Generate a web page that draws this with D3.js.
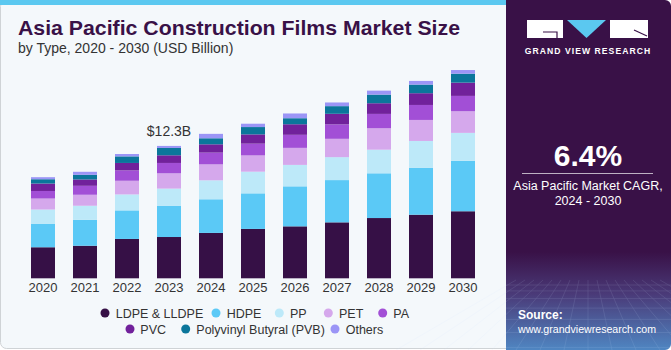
<!DOCTYPE html>
<html><head><meta charset="utf-8">
<script src="https://cdn.jsdelivr.net/npm/d3@7"></script>
<style>
html,body{margin:0;padding:0;background:#fff;}
svg{display:block;font-family:"Liberation Sans",Arial,sans-serif;}
</style></head>
<body>
<svg id="c" width="671" height="350"></svg>
<script>
const years = ["2020","2021","2022","2023","2024","2025","2026","2027","2028","2029","2030"];
const seriesNames = ["LDPE & LLDPE","HDPE","PP","PET","PA","PVC","Polyvinyl Butyral (PVB)","Others"];
const colors = ["#361046","#5bc9f6","#bde9f9","#d5a8ec","#a24fd6","#71219b","#0b769b","#9b95f6"];
const ldpe   = [2.88,3.02,3.65,3.83,4.21,4.58,4.82,5.19,5.59,5.90,6.22];
const hdpe   = [2.16,2.41,2.65,2.88,3.12,3.30,3.71,3.92,4.15,4.36,4.67];
const pp     = [1.34,1.30,1.48,1.61,1.76,2.01,1.99,2.13,2.19,2.48,2.60];
const pet    = [1.02,1.02,1.27,1.42,1.48,1.51,1.58,1.70,1.99,1.95,2.01];
const pa     = [0.70,0.83,0.96,0.96,1.09,1.09,1.21,1.34,1.33,1.39,1.42];
const pvc    = [0.69,0.59,0.69,0.71,0.77,0.86,0.98,0.98,0.99,1.09,1.23];
const pvb    = [0.40,0.43,0.61,0.68,0.56,0.68,0.56,0.71,0.80,0.80,0.83];
const others = [0.19,0.28,0.22,0.19,0.41,0.31,0.44,0.34,0.37,0.34,0.34];
const annotation = {year:"2023", text:"$12.3B"};

const svg = d3.select("#c");
const defs = svg.append("defs");

// Left panel
svg.append("rect").attr("x",0.5).attr("y",0.5).attr("width",520).attr("height",348).attr("rx",6)
  .attr("fill","#f4f8fb").attr("stroke","#cfd3d6");
svg.append("rect").attr("x",0).attr("y",0).attr("width",520).attr("height",5).attr("fill","#5bc8f0");

// Right panel
const grad = defs.append("linearGradient").attr("id","pg").attr("x1",0).attr("y1",0).attr("x2",0).attr("y2",1);
grad.append("stop").attr("offset","0%").attr("stop-color","#391147");
grad.append("stop").attr("offset","72%").attr("stop-color","#391147");
grad.append("stop").attr("offset","84%").attr("stop-color","#4a3a78");
grad.append("stop").attr("offset","100%").attr("stop-color","#4f86c2");
svg.append("rect").attr("x",506).attr("y",0).attr("width",165).attr("height",350).attr("rx",6).attr("fill","url(#pg)");
svg.append("rect").attr("x",506).attr("y",0).attr("width",10).attr("height",350).attr("fill","url(#pg)");

// faint grid in panel bottom
const gridG = svg.append("g").attr("opacity",0.18).attr("stroke","#cfe3ff").attr("stroke-width",0.6).attr("fill","none");
for(let i=0;i<9;i++){
  const yy = 285 + i*i*0.9 + i*5;
  gridG.append("line").attr("x1",506).attr("x2",671).attr("y1",yy).attr("y2",yy);
}
for(let i=-8;i<=8;i++){
  gridG.append("line").attr("x1",588+i*9).attr("y1",280).attr("x2",588+i*24).attr("y2",350);
}

// Logo
const lg = svg.append("g");
lg.append("rect").attr("x",527).attr("y",20).attr("width",36).attr("height",18).attr("fill","#fff");
lg.append("path").attr("d","M543 32 H557 V38").attr("stroke","#391147").attr("stroke-width",1.2).attr("fill","none");
lg.append("path").attr("d","M567 20 L606 20 L586.5 38 Z").attr("fill","#5bc8f0");
lg.append("rect").attr("x",610).attr("y",20).attr("width",38).attr("height",18).attr("fill","#fff");
lg.append("path").attr("d","M634 30 L647 36").attr("stroke","#391147").attr("stroke-width",1.2).attr("fill","none");
svg.append("text").attr("x",588).attr("y",53.5).attr("text-anchor","middle").attr("fill","#fff")
  .attr("font-size",8.6).attr("font-weight","bold").attr("letter-spacing",1.05).text("GRAND VIEW RESEARCH");

svg.append("text").attr("x",588).attr("y",166).attr("text-anchor","middle").attr("fill","#fff")
  .attr("font-size",30).attr("font-weight","bold").text("6.4%");
svg.append("line").attr("x1",522).attr("x2",653).attr("y1",173.5).attr("y2",173.5).attr("stroke","#fff").attr("stroke-width",0.8).attr("opacity",0.85);
svg.append("text").attr("x",588).attr("y",190).attr("text-anchor","middle").attr("fill","#fff")
  .attr("font-size",12.5).text("Asia Pacific Market CAGR,");
svg.append("text").attr("x",588).attr("y",205).attr("text-anchor","middle").attr("fill","#fff")
  .attr("font-size",12.5).text("2024 - 2030");
svg.append("text").attr("x",518).attr("y",319).attr("fill","#fff").attr("font-size",12).attr("font-weight","bold").text("Source:");
svg.append("text").attr("x",518).attr("y",333).attr("fill","#fff").attr("font-size",11.5)
  .attr("textLength",138).attr("lengthAdjust","spacingAndGlyphs").text("www.grandviewresearch.com");

// Titles
svg.append("text").attr("x",18).attr("y",35).attr("fill","#391147").attr("font-size",21).attr("font-weight","bold")
  .attr("textLength",442).attr("lengthAdjust","spacingAndGlyphs").text("Asia Pacific Construction Films Market Size");
svg.append("text").attr("x",18).attr("y",53).attr("fill","#333").attr("font-size",14)
  .text("by Type, 2020 - 2030 (USD Billion)");

// Chart
const x = d3.scaleBand().domain(years).range([22,484]).paddingInner(18/42).paddingOuter(9/42);
const y = d3.scaleLinear().domain([0,20]).range([278.3,62.7]);

const series = [ldpe,hdpe,pp,pet,pa,pvc,pvb,others];
const table = years.map((yr,i)=>{
  const o = {year:yr};
  seriesNames.forEach((s,k)=>o[s]=series[k][i]);
  return o;
});
const stack = d3.stack().keys(seriesNames)(table);

const gBars = svg.append("g");
stack.forEach((layer,k)=>{
  gBars.selectAll(null).data(layer).enter().append("rect")
    .attr("x",d=>x(d.data.year))
    .attr("width",x.bandwidth())
    .attr("y",d=>y(d[1]))
    .attr("height",d=>y(d[0])-y(d[1]))
    .attr("fill",colors[k]);
});

// axis
const ax = svg.append("g").attr("transform","translate(0,279)").call(d3.axisBottom(x).tickSize(0).tickPadding(4));
ax.select(".domain").remove();
ax.selectAll("text").attr("font-size",13).attr("fill","#333").attr("font-family","Liberation Sans, Arial, sans-serif");

// annotation
const ai = years.indexOf(annotation.year);
const tot = stack[stack.length-1][ai][1];
svg.append("text").attr("x",x(annotation.year)+x.bandwidth()/2).attr("y",y(tot)-9.5)
  .attr("text-anchor","middle").attr("fill","#333").attr("font-size",14).text(annotation.text);

// legend
const legendPos = [
  [105,115.7,313],[216,226.7,313],[279.3,290,313],[328.3,339,313],[382.7,393.3,313],
  [130,140.3,329],[185.7,196.3,329],[335,345.7,329]
];
const lgd = svg.append("g");
seriesNames.forEach((s,k)=>{
  const p = legendPos[k];
  lgd.append("circle").attr("cx",p[0]).attr("cy",p[2]).attr("r",4.5).attr("fill",colors[k]);
  lgd.append("text").attr("x",p[1]).attr("y",p[2]+4.5).attr("font-size",12.5).attr("fill","#333").text(s);
});
</script>
</body></html>
